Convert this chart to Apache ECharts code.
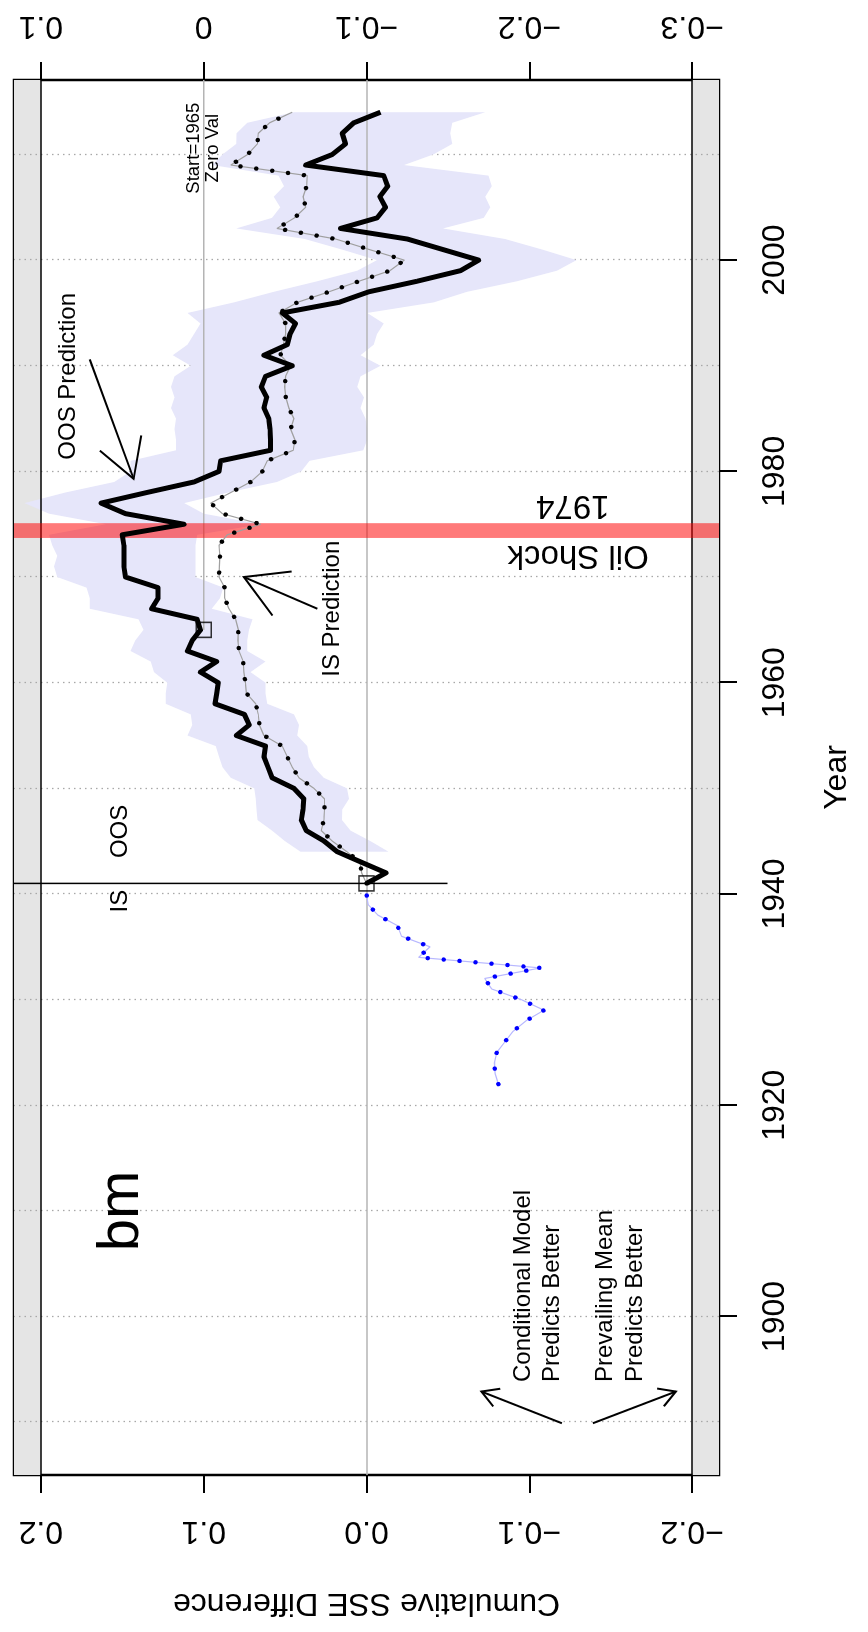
<!DOCTYPE html>
<html>
<head>
<meta charset="utf-8">
<script src="https://cdn.jsdelivr.net/npm/echarts@6/dist/echarts.min.js"></script>
<style>
  html, body { margin: 0; padding: 0; background: #fff; overflow: hidden; }
  /* the R plot is drawn landscape and turned a quarter left */
  #main { position: absolute; left: 0; top: 0; width: 1632px; height: 868px;
          transform-origin: 0 0; transform: translateY(1632px) rotate(-90deg); }
</style>
</head>
<body>
<div id="main"></div>
<script>
var FONT = '"Liberation Sans", Arial, Helvetica, sans-serif';

// in-sample fit before the OOS period starts (blue)
var earlyYears = [1922, 1923, 1924, 1925, 1926, 1927, 1928, 1929, 1930, 1931,
                  1932, 1933, 1934, 1935, 1936, 1937, 1938, 1939, 1940];
var earlyIS = [-0.081, -0.079, -0.0785, -0.080, -0.085, -0.090, -0.098, -0.109, -0.095, -0.077,
               -0.0726, -0.107, -0.032, -0.039, -0.0215, -0.019, -0.007, -0.001, 0.000];

var years = [1941, 1942, 1943, 1944, 1945, 1946, 1947, 1948, 1949, 1950,
             1951, 1952, 1953, 1954, 1955, 1956, 1957, 1958, 1959, 1960,
             1961, 1962, 1963, 1964, 1965, 1966, 1967, 1968, 1969, 1970,
             1971, 1972, 1973, 1974, 1975, 1976, 1977, 1978, 1979, 1980,
             1981, 1982, 1983, 1984, 1985, 1986, 1987, 1988, 1989, 1990,
             1991, 1992, 1993, 1994, 1995, 1996, 1997, 1998, 1999, 2000,
             2001, 2002, 2003, 2004, 2005, 2006, 2007, 2008, 2009, 2010,
             2011, 2012, 2013, 2014];
var oos = [0.000, -0.012, 0.003, 0.018, 0.026, 0.037, 0.040, 0.039, 0.0385, 0.0446,
           0.058, 0.0605, 0.063, 0.062, 0.080, 0.072, 0.075, 0.093, 0.092, 0.091,
           0.102, 0.092, 0.110, 0.107, 0.102, 0.104, 0.132, 0.128, 0.128, 0.148,
           0.149, 0.149, 0.149, 0.150, 0.112, 0.148, 0.163, 0.135, 0.106, 0.0906,
           0.0896, 0.059, 0.059, 0.0593, 0.060, 0.063, 0.0613, 0.0646, 0.062, 0.0456,
           0.063, 0.0487, 0.047, 0.0436, 0.0517, 0.017, -0.0014, -0.031, -0.0577, -0.0689,
           -0.047, -0.025, 0.016, -0.0065, -0.0117, -0.0082, -0.013, -0.0106, 0.0374, 0.021,
           0.0129, 0.0149, 0.0078, -0.0086];
var isPred = [0.000, 0.003, 0.004, 0.012, 0.021, 0.0278, 0.0262, 0.0258, 0.0258, 0.0323,
              0.0415, 0.0456, 0.0487, 0.0517, 0.063, 0.0658, 0.0665, 0.068, 0.0738, 0.0744,
              0.0753, 0.0757, 0.0783, 0.079, 0.0787, 0.0804, 0.0845, 0.0871, 0.0871, 0.0906,
              0.0904, 0.090, 0.0906, 0.0855, 0.065, 0.0885, 0.0957, 0.0834, 0.0712, 0.064,
              0.061, 0.045, 0.044, 0.0466, 0.0446, 0.0477, 0.0495, 0.0503, 0.0497, 0.0466,
              0.0528, 0.0511, 0.0497, 0.0497, 0.0538, 0.0425, 0.0231, 0.0047, -0.0143, -0.0233,
              -0.0018, 0.019, 0.055, 0.0442, 0.0374, 0.0389, 0.0368, 0.0364, 0.0834, 0.073,
              0.067, 0.0665, 0.0595, 0.0456];

// shaded band round the OOS line
var bandYears = [1944, 1945, 1946, 1947, 1948, 1949, 1950,
                 1951, 1952, 1953, 1954, 1955, 1956, 1957, 1958, 1959, 1960,
                 1961, 1962, 1963, 1964, 1965, 1966, 1967, 1968, 1969, 1970,
                 1971, 1972, 1973, 1974, 1975, 1976, 1977, 1978, 1979, 1980,
                 1981, 1982, 1983, 1984, 1985, 1986, 1987, 1988, 1989, 1990,
                 1991, 1992, 1993, 1994, 1995, 1996, 1997, 1998, 1999, 2000,
                 2001, 2002, 2003, 2004, 2005, 2006, 2007, 2008, 2009, 2010,
                 2011, 2012, 2013, 2014];
var bandHi = [0.0405, 0.050, 0.058, 0.067, 0.0675, 0.068, 0.069,
              0.0834, 0.0885, 0.0906, 0.0926, 0.110, 0.107, 0.108, 0.1233, 0.1233, 0.1223,
              0.1305, 0.1325, 0.145, 0.142, 0.137, 0.140, 0.170, 0.170, 0.172, 0.190,
              0.192, 0.190, 0.193, 0.195, 0.160, 0.195, 0.210, 0.185, 0.155, 0.145,
              0.145, 0.117, 0.117, 0.118, 0.117, 0.120, 0.118, 0.120, 0.118, 0.108,
              0.119, 0.110, 0.106, 0.102, 0.110, 0.0814, 0.0569, 0.0303, 0.0057, -0.0065,
              0.015, 0.038, 0.080, 0.058, 0.053, 0.057, 0.0507, 0.054, 0.0947, 0.0885,
              0.080, 0.0798, 0.0732, 0.0446];
var bandLo = [-0.0135, -0.0025, 0.0098, 0.015, 0.0149, 0.0108, 0.0119,
              0.0262, 0.0323, 0.0354, 0.0364, 0.0425, 0.0415, 0.0446, 0.061, 0.062, 0.062,
              0.0712, 0.062, 0.0732, 0.0732, 0.0722, 0.070, 0.095, 0.090, 0.088, 0.105,
              0.105, 0.105, 0.105, 0.104, 0.065, 0.100, 0.112, 0.085, 0.055, 0.040,
              0.035, 0.002, -0.0004, -0.0004, 0.0006, 0.0037, 0.0016, 0.0057, 0.0037, -0.0086,
              0.0037, -0.0045, -0.0065, -0.0106, -0.0004, -0.0413, -0.0618, -0.0924, -0.117, -0.129,
              -0.108, -0.085, -0.047, -0.072, -0.076, -0.073, -0.077, -0.075, -0.023, -0.041,
              -0.0526, -0.0515, -0.0526, -0.073];

var yearTicks = [1900, 1920, 1940, 1960, 1980, 2000];
var gridYears = [1890, 1900, 1910, 1920, 1930, 1940, 1950, 1960, 1970, 1980, 1990, 2000, 2010];
var sseTicks = [-0.2, -0.1, 0, 0.1, 0.2];
var xMin = 1885.0, xMax = 2017.05, yLim = 0.2165;
var oilShock = [1973.7, 1975.1];
var oosStart = 1941, zeroValYear = 1965;

function pairs(xs, ys) {
  return xs.map(function (x, i) { return [x, ys[i]]; });
}
function rLabel(v) {
  var r = Math.round(v * 10) / 10;
  if (r === 0) return '0.0';
  return (r < 0 ? '\u2212' : '') + Math.abs(r).toFixed(1);
}
function rLabel2(v) {
  var r = Math.round((v - 0.1) * 10) / 10;
  if (r === 0) return '0';
  return (r < 0 ? '\u2212' : '') + Math.abs(r).toFixed(1);
}

var chart = echarts.init(document.getElementById('main'), null, {width: 1632, height: 868});

var tickStyle = {show: true, length: 18, lineStyle: {color: '#000', width: 2}};

var option = {
  animation: false,
  backgroundColor: '#fff',
  grid: {left: 157, top: 14, width: 1395, height: 705, show: true,
         borderColor: '#000', borderWidth: 2.5, backgroundColor: '#fff'},
  xAxis: {
    type: 'value', min: xMin, max: xMax,
    axisLine: {show: false, onZero: false},
    axisTick: Object.assign({customValues: yearTicks}, tickStyle),
    axisLabel: {customValues: yearTicks, fontSize: 32, fontFamily: FONT, color: '#000', margin: 40,
                formatter: function (v) { return String(v); }},
    splitLine: {show: false},
    name: 'Year', nameLocation: 'middle', nameGap: 102,
    nameTextStyle: {fontSize: 32, fontFamily: FONT, color: '#000'}
  },
  yAxis: [{
    type: 'value', min: -yLim, max: yLim, position: 'left',
    axisLine: {show: false, onZero: false},
    axisTick: Object.assign({customValues: sseTicks}, tickStyle),
    axisLabel: {customValues: sseTicks, rotate: 90, fontSize: 32, fontFamily: FONT,
                color: '#000', margin: 40, formatter: rLabel},
    splitLine: {show: false},
    name: 'Cumulative SSE Difference', nameLocation: 'middle', nameGap: 112,
    nameTextStyle: {fontSize: 32, fontFamily: FONT, color: '#000'}
  }, {
    type: 'value', min: -yLim, max: yLim, position: 'right',
    axisLine: {show: false, onZero: false},
    axisTick: Object.assign({customValues: sseTicks}, tickStyle),
    axisLabel: {customValues: sseTicks, rotate: 90, fontSize: 32, fontFamily: FONT,
                color: '#000', margin: 38, formatter: rLabel2},
    splitLine: {show: false}
  }],
  series: [
    { // grey margins outside +-0.2 and the 10-year grid
      type: 'line', data: [], z: 1, silent: true,
      markArea: {silent: true, z: 1, itemStyle: {color: '#e5e5e5'},
        data: [[{yAxis: 0.2}, {yAxis: yLim}], [{yAxis: -yLim}, {yAxis: -0.2}]]},
      markLine: {silent: true, z: 2, symbol: 'none', label: {show: false},
        lineStyle: {color: '#a8a8a8', width: 1.3, type: [1.5, 4]},
        data: gridYears.map(function (y) { return {xAxis: y}; })}
    },
    {
      type: 'custom', z: 3, silent: true,
      data: bandYears.map(function (y, i) { return [y, bandHi[i], bandLo[i]]; }),
      encode: {x: 0, y: [1, 2]},
      renderItem: function (params, api) {
        if (params.dataIndex !== 0) return;
        var pts = [], i;
        for (i = 0; i < bandYears.length; i++) pts.push(api.coord([bandYears[i], bandHi[i]]));
        for (i = bandYears.length - 1; i >= 0; i--) pts.push(api.coord([bandYears[i], bandLo[i]]));
        return {type: 'polygon', shape: {points: pts}, style: {fill: '#e6e6fa'}};
      }
    },
    { // reference lines
      type: 'line', data: [], z: 4, silent: true,
      markLine: {silent: true, z: 4, symbol: 'none', label: {show: false},
        data: [
          {yAxis: 0, lineStyle: {color: '#b4b4b4', width: 1.5, type: 'solid'}},
          {yAxis: 0.2, lineStyle: {color: '#000', width: 1.5, type: 'solid'}},
          {yAxis: -0.2, lineStyle: {color: '#000', width: 1.5, type: 'solid'}}
        ]}
    },
    {
      type: 'line', z: 4, silent: true, showSymbol: false,
      data: [[zeroValYear, 0.1], [xMax, 0.1]],
      lineStyle: {color: '#b4b4b4', width: 1.5}
    },
    { // oil shock
      type: 'line', data: [], z: 5, silent: true,
      markArea: {silent: true, z: 5, itemStyle: {color: 'rgba(255,0,0,0.52)'},
        data: [[{xAxis: oilShock[0]}, {xAxis: oilShock[1]}]]}
    },
    {
      type: 'line', z: 6, silent: true, showSymbol: false,
      data: pairs(earlyYears, earlyIS),
      lineStyle: {color: '#b8b8ff', width: 1.2}
    },
    {
      type: 'line', z: 6, silent: true, showSymbol: false,
      data: pairs(earlyYears, earlyIS),
      lineStyle: {color: '#0000ff', width: 4.5, type: [0.01, 16], cap: 'round'}
    },
    {
      type: 'line', z: 6, silent: true, showSymbol: false,
      data: pairs(years, isPred),
      lineStyle: {color: '#a0a0a0', width: 1.2}
    },
    {
      type: 'line', z: 6, silent: true, showSymbol: false,
      data: pairs(years, isPred),
      lineStyle: {color: '#000', width: 4.5, type: [0.01, 16], cap: 'round'}
    },
    {
      type: 'line', z: 7, silent: true, showSymbol: false,
      data: pairs(years, oos),
      lineStyle: {color: '#000', width: 5, join: 'round'}
    },
    {
      type: 'line', z: 8, silent: true, showSymbol: false,
      data: [[oosStart, -0.0497], [oosStart, yLim]],
      lineStyle: {color: '#000', width: 1.5}
    },
    {
      type: 'scatter', z: 8, silent: true, symbol: 'rect', symbolSize: 15,
      data: [[oosStart, 0], [zeroValYear, 0.1]],
      itemStyle: {color: 'rgba(0,0,0,0)', borderColor: '#000', borderWidth: 1.6}
    }
  ]
};
chart.setOption(option);

function px(x, y) {
  return chart.convertToPixel({xAxisIndex: 0, yAxisIndex: 0}, [x, y]);
}
function txt(x, y, s, size, opts) {
  var p = px(x, y);
  opts = opts || {};
  return {
    type: 'text', x: p[0], y: p[1], rotation: opts.rot || 0, z: 20, silent: true,
    style: {text: s, font: size + 'px ' + FONT, fill: '#000',
            align: opts.align || 'center', verticalAlign: 'middle',
            lineHeight: opts.lh || size * 1.15}
  };
}
function arrow(x0, y0, x1, y1, len) {
  var a = px(x0, y0), b = px(x1, y1);
  var ang = Math.atan2(b[1] - a[1], b[0] - a[0]);
  var s = Math.PI / 6;
  var l = [b[0] - len * Math.cos(ang - s), b[1] - len * Math.sin(ang - s)];
  var r = [b[0] - len * Math.cos(ang + s), b[1] - len * Math.sin(ang + s)];
  var st = {stroke: '#000', lineWidth: 2, fill: null};
  return [
    {type: 'polyline', z: 20, silent: true, shape: {points: [a, b]}, style: st},
    {type: 'polyline', z: 20, silent: true, shape: {points: [l, b, r]}, style: st}
  ];
}

var g = [
  txt(1910.0, 0.1503, 'bm', 58),
  txt(1989.0, 0.183, 'OOS Prediction', 24),
  txt(1967.0, 0.021, 'IS Prediction', 24),
  txt(1940.4, 0.151, 'IS', 24, {align: 'right'}),
  txt(1943.4, 0.151, 'OOS', 24, {align: 'left'}),
  txt(2010.6, 0.1, 'Start=1965\nZero Val', 18.5, {lh: 19}),
  txt(1976.8, -0.1267, '1974', 33, {rot: Math.PI / 2}),
  txt(1972.1, -0.130, 'Oil Shock', 33, {rot: Math.PI / 2}),
  txt(1893.8, -0.0966, 'Conditional Model', 24, {align: 'left'}),
  txt(1893.8, -0.114, 'Predicts Better', 24, {align: 'left'}),
  txt(1893.8, -0.1466, 'Prevailing Mean', 24, {align: 'left'}),
  txt(1893.8, -0.165, 'Predicts Better', 24, {align: 'left'})
];
g = g.concat(arrow(1990.6, 0.170, 1979.3, 0.143, 44));
g = g.concat(arrow(1967.0, 0.0302, 1970.0, 0.0753, 48));
g = g.concat(arrow(1889.9, -0.12, 1892.9, -0.0706, 19));
g = g.concat(arrow(1889.9, -0.139, 1892.9, -0.19, 19));

chart.setOption({graphic: g});
</script>
</body>
</html>
